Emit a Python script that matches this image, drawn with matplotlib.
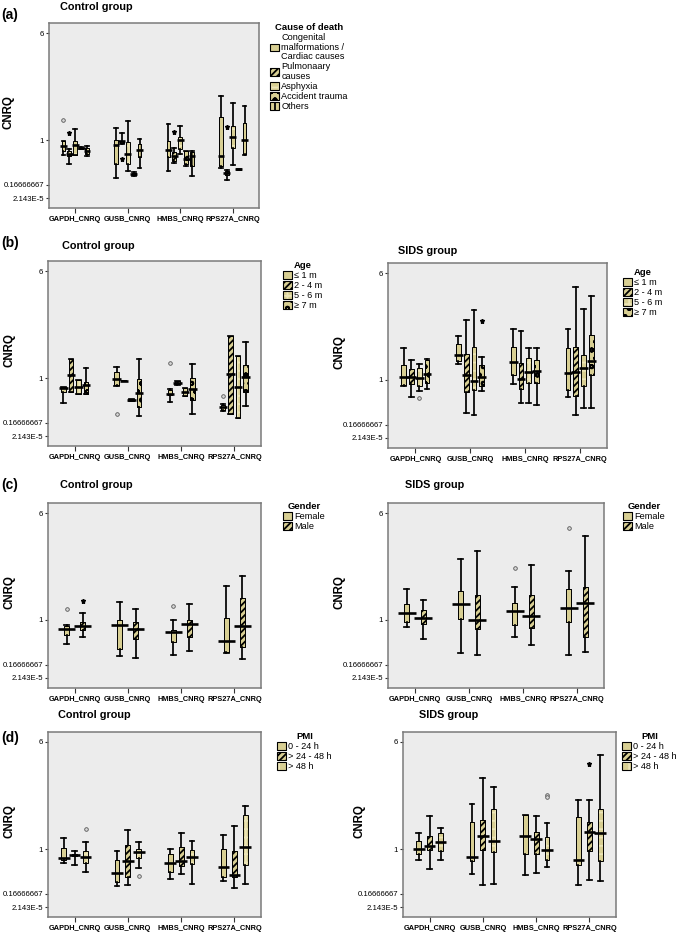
import numpy as np
import matplotlib
matplotlib.use("Agg")
import matplotlib.pyplot as plt
from matplotlib.patches import Patch, PathPatch
from matplotlib import font_manager
from matplotlib.ticker import FixedLocator, NullLocator

# ------------------------------------------------------------------ data
GENES = ["GAPDH_CNRQ", "GUSB_CNRQ", "HMBS_CNRQ", "RPS27A_CNRQ"]
Y_TICKS = [6, 1, 0.16666667, 2.143e-5]
Y_TICK_LABELS = ["6", "1", "0.16666667", "2.143E-5"]

CAUSES = ["Congenital\nmalformations /\nCardiac causes", "Pulmonaary\ncauses",
          "Asphyxia", "Accident trauma", "Others"]
AGES = ["≤ 1 m", "2 - 4 m", "5 - 6 m", "≥ 7 m"]
GENDERS = ["Female", "Male"]
PMIS = ["0 - 24 h", "> 24 - 48 h", "> 48 h"]

# (a) Control group by cause of death  -- rows: genes, cols: groups
A_LO = [[0.73, 0.56, 0.73, 0.83, 0.71], [0.30, 0.93, 0.42, 0.34, 0.48],
        [0.43, 0.57, 0.74, 0.52, 0.34], [0.49, 0.26, 0.54, 0.45, 0.73]]
A_Q1 = [[0.80, 0.71, 0.73, 0.84, 0.75], [0.56, 0.95, 0.56, 0.35, 0.68],
        [0.68, 0.62, 0.83, 0.56, 0.52], [0.51, 0.36, 0.86, 0.45, 0.74]]
A_MED = [[0.895, 0.74, 0.91, 0.85, 0.80], [0.91, 0.975, 0.74, 0.37, 0.82],
         [0.82, 0.71, 1.00, 0.65, 0.71], [0.71, 0.39, 1.16, 0.46, 1.00]]
A_Q3 = [[0.975, 0.80, 0.99, 0.86, 0.86], [1.00, 0.99, 0.96, 0.39, 0.93],
        [0.99, 0.77, 1.12, 0.79, 0.77], [2.06, 0.42, 1.67, 0.47, 1.78]]
A_HI = [[0.975, 0.83, 1.51, 0.87, 0.895], [1.55, 1.33, 1.90, 0.40, 1.05],
        [1.75, 0.86, 1.67, 0.79, 0.80], [3.04, 0.44, 2.73, 0.47, 2.57]]
A_OUT = [(0, 0, 1.93, "o"), (0, 1, 1.34, "*"), (1, 1, 0.65, "*"),
         (2, 1, 1.39, "*"), (3, 1, 1.62, "*")]

# (b) Control group by age
BC_LO = [[0.54, 0.74, 0.70, 0.70], [0.85, 0.945, 0.57, 0.30],
         [0.56, 0.87, 0.67, 0.34], [0.38, 0.34, 0.26, 0.48]]
BC_Q1 = [[0.74, 0.74, 0.70, 0.71], [0.87, 0.945, 0.575, 0.47],
         [0.68, 0.88, 0.67, 0.60], [0.40, 0.34, 0.26, 0.74]]
BC_MED = [[0.82, 1.12, 0.84, 0.87], [0.98, 0.945, 0.59, 0.73],
          [0.71, 0.91, 0.74, 0.79], [0.46, 1.17, 0.84, 1.05]]
BC_Q3 = [[0.84, 1.90, 0.96, 0.93], [1.28, 0.945, 0.61, 0.99],
         [0.77, 0.945, 0.82, 1.02], [0.50, 2.98, 2.02, 1.62]]
BC_HI = [[0.84, 1.90, 0.96, 1.48], [1.51, 0.945, 0.62, 1.87],
         [0.79, 0.95, 0.82, 1.67], [0.52, 2.98, 2.02, 2.70]]
BC_OUT = [(1, 0, 0.33, "o"), (2, 0, 1.71, "o"), (3, 0, 0.67, "o")]

# (b) SIDS group by age
BS_LO = [[0.89, 0.68, 0.80, 0.83], [1.77, 0.39, 0.35, 0.80],
         [0.93, 0.57, 0.565, 0.53], [0.68, 0.35, 0.49, 0.48]]
BS_Q1 = [[0.91, 0.93, 0.89, 0.94], [1.90, 0.77, 0.82, 0.89],
         [1.24, 0.84, 0.94, 0.94], [0.81, 0.70, 0.88, 1.24]]
BS_MED = [[1.16, 1.13, 1.08, 1.29], [2.17, 1.24, 0.975, 1.13],
          [1.82, 1.05, 1.37, 1.42], [1.34, 1.37, 1.58, 1.88]]
BS_Q3 = [[1.72, 1.53, 1.56, 1.93], [2.66, 2.21, 2.53, 1.72],
         [2.53, 1.80, 2.01, 1.93], [2.50, 2.53, 2.17, 3.11]]
BS_HI = [[2.50, 1.93, 1.77, 1.96], [3.06, 3.81, 4.26, 2.06],
         [3.36, 3.28, 2.50, 2.50], [3.38, 5.36, 4.31, 4.91]]
BS_OUT = [(0, 2, 0.66, "o"), (1, 3, 3.78, "*")]

# (c) Control group by gender
CC_LO = [[0.55, 0.69], [0.33, 0.30], [0.35, 0.43], [0.38, 0.28]]
CC_Q1 = [[0.72, 0.81], [0.46, 0.64], [0.60, 0.69], [0.41, 0.50]]
CC_MED = [[0.83, 0.895], [0.91, 0.83], [0.77, 0.92], [0.62, 0.895]]
CC_Q3 = [[0.88, 0.97], [1.00, 0.96], [0.81, 1.00], [1.08, 2.05]]
CC_HI = [[0.91, 1.35], [1.86, 1.52], [1.00, 1.74], [2.57, 3.04]]
CC_OUT = [(0, 0, 1.50, "o"), (0, 1, 1.91, "*"), (2, 0, 1.66, "o")]

# (c) SIDS group by gender
CS_LO = [[0.87, 0.64], [0.38, 0.35], [0.69, 0.53], [0.35, 0.41]]
CS_Q1 = [[0.97, 0.92], [1.03, 0.84], [0.91, 0.86], [0.97, 0.69]]
CS_MED = [[1.32, 1.08], [1.77, 1.00], [1.43, 1.21], [1.56, 1.80]]
CS_Q3 = [[1.77, 1.45], [2.36, 2.17], [1.80, 2.17], [2.47, 2.55]]
CS_HI = [[2.47, 1.93], [3.84, 4.24], [2.52, 3.56], [3.27, 4.91]]
CS_OUT = [(2, 0, 3.43, "o"), (3, 0, 5.31, "o")]

# (d) Control group by PMI
DC_LO = [[0.74, 0.71, 0.57], [0.32, 0.34, 0.65], [0.45, 0.54, 0.36], [0.40, 0.28, 0.36]]
DC_Q1 = [[0.80, 0.87, 0.74], [0.38, 0.48, 0.83], [0.57, 0.69, 0.73], [0.48, 0.48, 0.71]]
DC_MED = [[0.835, 0.89, 0.85], [0.555, 0.77, 0.95], [0.74, 0.77, 0.85], [0.66, 0.51, 1.08]]
DC_Q3 = [[1.03, 0.91, 0.97], [0.80, 1.20, 1.00], [0.90, 1.08, 0.98], [1.00, 0.97, 2.59]]
DC_HI = [[1.50, 0.97, 1.34], [0.96, 1.90, 1.31], [1.00, 1.77, 1.39], [1.65, 2.08, 3.01]]
DC_OUT = [(0, 2, 1.93, "o"), (1, 2, 0.50, "o")]

# (d) SIDS group by PMI
DS_LO = [[0.79, 0.63, 0.79], [0.54, 0.34, 0.36], [0.51, 0.56, 0.66], [0.34, 0.42, 0.40]]
DS_Q1 = [[0.91, 0.99, 0.97], [0.77, 0.98, 0.95], [0.90, 0.91, 0.79], [0.70, 0.97, 0.77]]
DS_MED = [[1.00, 1.15, 1.31], [0.85, 1.62, 1.39], [1.62, 1.46, 0.99], [0.80, 1.80, 1.73]]
DS_Q3 = [[1.36, 1.62, 1.73], [2.24, 2.37, 2.86], [2.58, 1.80, 1.54], [2.51, 2.27, 2.86]]
DS_HI = [[1.77, 2.52, 1.96], [3.09, 4.30, 3.90], [2.58, 2.55, 2.21], [3.29, 3.29, 5.38]]
DS_OUT = [(2, 2, 3.52, "o"), (2, 2, 3.43, "o"), (3, 1, 4.95, "*")]

# ------------------------------------------------------------------ style
W, H = 685, 933
names = {f.name for f in font_manager.fontManager.ttflist}
HAS_NARROW = "Liberation Sans Narrow" in names
NARROW = ["Liberation Sans Narrow", "Liberation Sans", "DejaVu Sans"] if HAS_NARROW else ["Liberation Sans", "DejaVu Sans"]
REG = ["Liberation Sans", "DejaVu Sans"]
XT_SIZE = 6.2 if HAS_NARROW else 5.3
YT_SIZE = 6.3 if HAS_NARROW else 5.6

plt.rcParams["font.family"] = REG
plt.rcParams["hatch.linewidth"] = 1.3

TAN = "#d8cf93"
LIGHT = "#ece5b8"
BG = "#ececec"
STYLES = {
    "solid": (None, "black"),
    "diag": ("/////", "black"),
    "dots": ("++", LIGHT),
    "check": ("oo", "black"),
    "vert": ("|||", "black"),
}

_V = np.array([2.143e-5, 1 / 6, 1.0, 6.0])
_P = np.array([0.0, 13.0, 58.0, 165.0])


def _pw(x, xs, ys):
    x = np.asarray(x, dtype=float)
    y = np.interp(x, xs, ys)
    y = np.where(x < xs[0], ys[0] + (x - xs[0]) * (ys[1] - ys[0]) / (xs[1] - xs[0]), y)
    y = np.where(x > xs[-1], ys[-1] + (x - xs[-1]) * (ys[-1] - ys[-2]) / (xs[-1] - xs[-2]), y)
    return y


def fwd(v):
    return _pw(v, _V, _P)


def inv(p):
    return _pw(p, _P, _V)


fig = plt.figure(figsize=(W / 100, H / 100), dpi=100)


def make_ax(l, t, r, b):
    return fig.add_axes([l / W, 1 - b / H, (r - l) / W, (b - t) / H])


def handle(style):
    hatch, hc = STYLES[style]
    return (Patch(facecolor=TAN, edgecolor=hc, hatch=hatch, linewidth=0.4),
            Patch(facecolor="none", edgecolor="black", linewidth=0.8))


def panel(frame, lo, q1, med, q3, hi, outs, styles, spacing, box_w, med_w,
          title, title_xy, ylab_x, leg_title, leg_labels, leg_xy):
    l, t, r, b = frame
    ax = make_ax(l, t, r, b)
    ax.set_facecolor(BG)
    ax.set_yscale("function", functions=(fwd, inv))
    n = len(styles)
    offs = (np.arange(n) - (n - 1) / 2) * spacing
    for gi in range(len(GENES)):
        pos = gi + 1 + offs
        stats = [dict(whislo=lo[gi][k], q1=q1[gi][k], med=med[gi][k],
                      q3=q3[gi][k], whishi=hi[gi][k], fliers=[]) for k in range(n)]
        bp = ax.bxp(stats, positions=pos, widths=box_w, capwidths=box_w,
                    patch_artist=True, showfliers=False, manage_ticks=False,
                    whiskerprops=dict(color="black", linewidth=1.25),
                    capprops=dict(color="black", linewidth=1.25),
                    medianprops=dict(linewidth=0))
        for k, box in enumerate(bp["boxes"]):
            hatch, hc = STYLES[styles[k]]
            box.set_facecolor(TAN)
            box.set_edgecolor(hc)
            box.set_hatch(hatch)
            box.set_linewidth(0.4)
            ax.add_patch(PathPatch(box.get_path(), transform=box.get_transform(),
                                   facecolor="none", edgecolor="black",
                                   linewidth=0.7, zorder=box.get_zorder() + 0.1))
        ax.bxp(stats, positions=pos, widths=med_w, showbox=False, showcaps=False,
               showfliers=False, manage_ticks=False,
               whiskerprops=dict(linestyle="none"),
               medianprops=dict(color="black", linewidth=1.9, solid_capstyle="butt"))
    for gi, k, val, mk in outs:
        x = gi + 1 + offs[k]
        if mk == "o":
            ax.plot([x], [val], marker="o", ms=2.6, mfc="#d8d8d8", mec="#555555",
                    mew=0.6, ls="none", zorder=5)
        else:
            ax.plot([x], [val], marker="*", ms=3.6, color="black", ls="none", zorder=5)
    ax.set_xlim(0.5, 4.5)
    ax.set_ylim(float(inv(-10)), float(inv(175)))
    ax.yaxis.set_major_locator(FixedLocator(Y_TICKS))
    ax.yaxis.set_minor_locator(NullLocator())
    ax.set_yticklabels(Y_TICK_LABELS, fontsize=YT_SIZE, family=NARROW)
    ax.set_xticks(range(1, len(GENES) + 1))
    ax.set_xticklabels(GENES, fontsize=XT_SIZE, family=NARROW, weight="bold")
    ax.tick_params(axis="y", length=2.5, width=0.8, pad=1, color="#333333")
    ax.tick_params(axis="x", length=3.5, width=0.8, pad=2, color="#333333")
    for s in ax.spines.values():
        s.set_color("#7a7a7a")
        s.set_linewidth(1.1)
    ax.set_ylabel("CNRQ", fontsize=8.3, weight="bold", family=REG)
    ax.yaxis.set_label_coords((ylab_x - l) / (r - l), 0.52)
    fig.text(title_xy[0] / W, 1 - title_xy[1] / H, title, fontsize=7.8,
             weight="bold", ha="left", va="center")
    leg = fig.legend([handle(s) for s in styles], leg_labels, title=leg_title,
                     loc="upper left", bbox_to_anchor=(leg_xy[0] / W, 1 - leg_xy[1] / H),
                     frameon=False, fontsize=6.6,
                     title_fontproperties=dict(weight="bold", size=6.8),
                     handlelength=1.0, handleheight=0.9, handletextpad=0.25,
                     labelspacing=0.12, borderpad=0, borderaxespad=0)
    for txt in leg.get_texts():
        txt.set_linespacing(1.08)
    return ax


panel((49, 23, 259, 208), A_LO, A_Q1, A_MED, A_Q3, A_HI, A_OUT,
      ["solid", "diag", "dots", "check", "vert"], 0.112, 0.075, 0.13,
      "Control group", (60, 7), 15, "Cause of death", CAUSES, (270, 23))

panel((48, 261, 261, 446), BC_LO, BC_Q1, BC_MED, BC_Q3, BC_HI, BC_OUT,
      ["solid", "diag", "dots", "check"], 0.142, 0.085, 0.16,
      "Control group", (62, 246), 15, "Age", AGES, (283, 261))
panel((388, 263, 607, 448), BS_LO, BS_Q1, BS_MED, BS_Q3, BS_HI, BS_OUT,
      ["solid", "diag", "dots", "check"], 0.142, 0.085, 0.16,
      "SIDS group", (398, 251), 345, "Age", AGES, (623, 268))

panel((48, 503, 261, 688), CC_LO, CC_Q1, CC_MED, CC_Q3, CC_HI, CC_OUT,
      ["solid", "diag"], 0.30, 0.09, 0.32,
      "Control group", (60, 485), 15, "Gender", GENDERS, (283, 502))
panel((388, 503, 604, 688), CS_LO, CS_Q1, CS_MED, CS_Q3, CS_HI, CS_OUT,
      ["solid", "diag"], 0.30, 0.09, 0.32,
      "SIDS group", (405, 485), 345, "Gender", GENDERS, (623, 502))

panel((48, 732, 261, 917), DC_LO, DC_Q1, DC_MED, DC_Q3, DC_HI, DC_OUT,
      ["solid", "diag", "dots"], 0.205, 0.09, 0.22,
      "Control group", (58, 715), 15, "PMI", PMIS, (277, 732))
panel((403, 732, 616, 917), DS_LO, DS_Q1, DS_MED, DS_Q3, DS_HI, DS_OUT,
      ["solid", "diag", "dots"], 0.205, 0.09, 0.22,
      "SIDS group", (419, 715), 365, "PMI", PMIS, (622, 732))

for lab, y in [("(a)", 15), ("(b)", 243), ("(c)", 485), ("(d)", 738)]:
    fig.text(1 / W, 1 - y / H, lab, fontsize=10, weight="bold", ha="left", va="center")

fig.savefig("out.png", dpi=100, facecolor="white")
